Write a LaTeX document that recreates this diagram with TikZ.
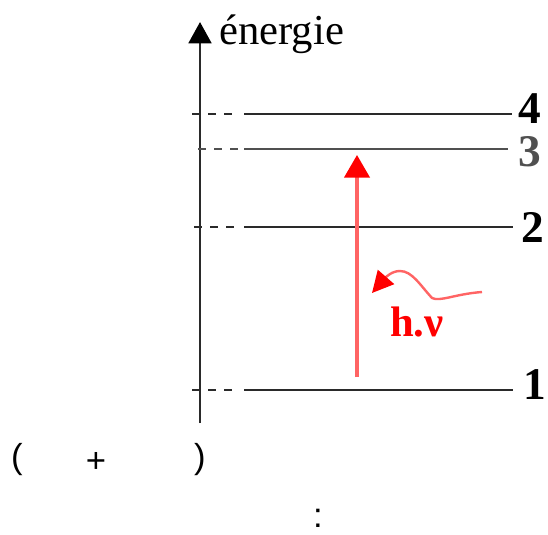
\documentclass[tikz,border=0pt]{standalone}
\usepackage{fontspec}
\setmainfont{Liberation Serif}
\newfontfamily\glyphsans{Liberation Sans}
\usetikzlibrary{arrows.meta,positioning}
\definecolor{lvink}{HTML}{2A2A2A}
\definecolor{lvgrey}{HTML}{505050}
\definecolor{photred}{HTML}{FF0000}
\definecolor{photline}{HTML}{FF6464}

\begin{document}
\begin{tikzpicture}[x=0.75pt,y=-0.75pt,line cap=butt,
  lvl/.style={lvink,line width=2.2pt},
  lvldash/.style={lvl,dash pattern=on 6pt off 6pt},
  lvnum/.style={anchor=west,inner sep=0pt,font=\fontsize{34}{34}\selectfont\bfseries},
  sym/.style={inner sep=0pt,font=\glyphsans\fontsize{26}{26}\selectfont}]
\path[use as bounding box] (0,0) rectangle (548,534);
\fill[white] (0,0) rectangle (548,534);

% axe des energies
\coordinate (axbot) at (200,423);
\coordinate (axtop) at (200,22);
\draw[lvl,-{Triangle[width=17pt,length=16pt,color=black]}] (axbot) -- (axtop);
\node[anchor=base west,inner sep=0pt,font=\fontsize{32}{32}\selectfont] (ener) at (219,45) {énergie};

% niveaux : numero / y / debut / fin / couleur
\foreach \lv/\yy/\xs/\xe/\col in {4/114/192/512/lvink,3/149/198/508/lvgrey,2/227/194/513/lvink,1/390/192/513/lvink} {
  \coordinate (d\lv) at (\xs,\yy);
  \coordinate (m\lv) at (239,\yy);
  \coordinate (s\lv) at (244,\yy);
  \coordinate (e\lv) at (\xe,\yy);
  \draw[lvldash,\col] (d\lv) -- (m\lv);
  \draw[lvl,\col] (s\lv) -- (e\lv);
}
\node[lvnum] (n4) at (518,109) {4};
\node[lvnum,text=lvgrey] (n3) at (518,152) {3};
\node[lvnum] (n2) at (521,227) {2};
\node[lvnum] (n1) at (523,385) {1};

% absorption
\coordinate (abs0) at (357,377);
\coordinate (abs1) at (357,155);
\draw[photline,line width=2.4pt,-{Triangle[width=19pt,length=17pt,color=photred]}] (abs0) -- (abs1);

% photon
\coordinate (hv0) at (482,292);
\coordinate (hv1) at (372,293);
\draw[photline,line width=1.8pt,-{Triangle[width=16pt,length=16pt,color=photred]}]
  (hv0) .. controls (455,294) and (440,302) .. (432,298)
  .. controls (420,285) and (412,271) .. (400,271)
  .. controls (392,271) and (386,277) .. (hv1);
\node[anchor=base west,inner sep=0pt,text=photred,font=\fontsize{32}{32}\selectfont\bfseries] (hnu) at (390,336) {h.ν};

\node[sym] (po) at (17,460) {(};
\node[sym] (pl) at (96,462) {+};
\node[sym] (pf) at (200,460) {)};
\node[sym] (col) at (318,518) {:};
\end{tikzpicture}
\end{document}
